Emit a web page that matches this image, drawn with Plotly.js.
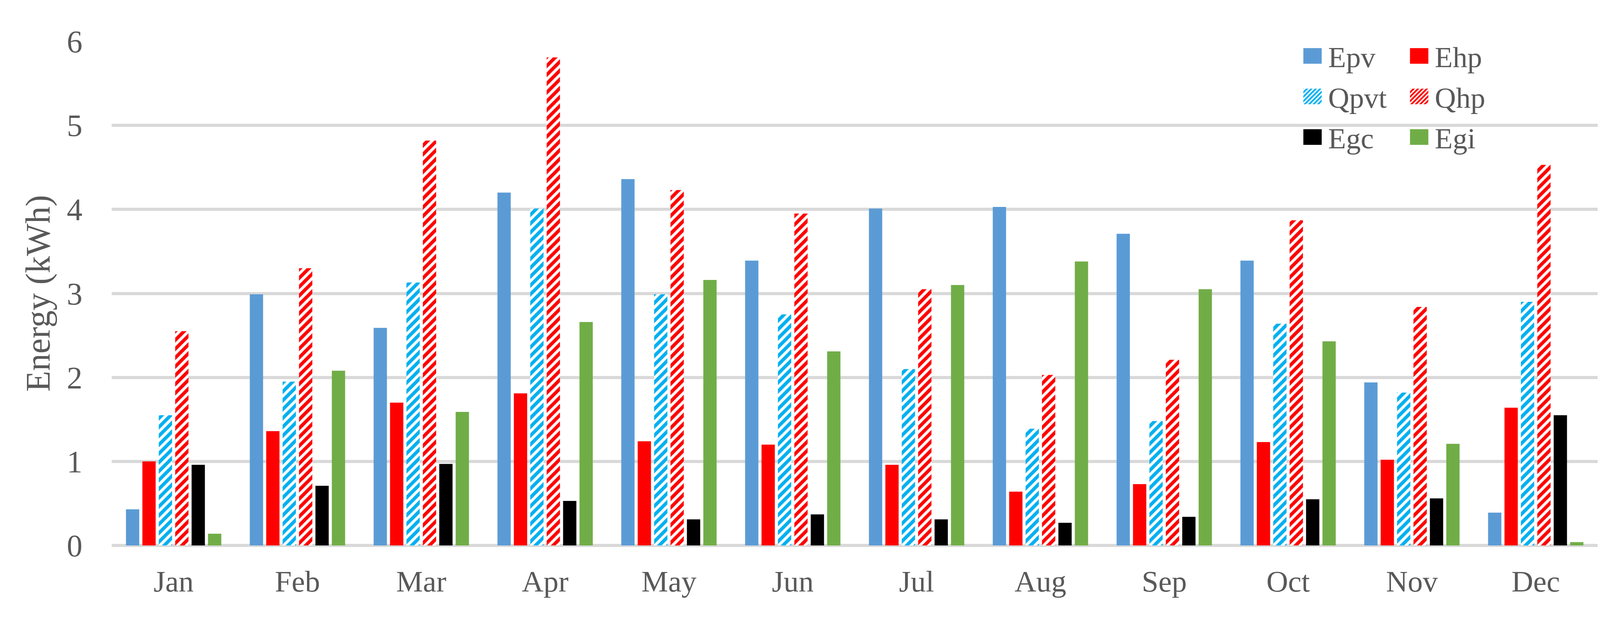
<!DOCTYPE html>
<html>
<head>
<meta charset="utf-8">
<script src="https://cdn.plot.ly/plotly-3.0.1.min.js"></script>
<style>html,body{margin:0;padding:0;background:#fff;}#chart{width:4151px;height:1588px;}</style>
</head>
<body>
<div id="chart"></div>
<script>
const months = ["Jan","Feb","Mar","Apr","May","Jun","Jul","Aug","Sep","Oct","Nov","Dec"];
const Epv  = [0.43, 2.99, 2.59, 4.20, 4.36, 3.39, 4.01, 4.03, 3.71, 3.39, 1.94, 0.39];
const Ehp  = [1.00, 1.36, 1.70, 1.81, 1.24, 1.20, 0.96, 0.64, 0.73, 1.23, 1.02, 1.64];
const Qpvt = [1.55, 1.95, 3.13, 4.01, 2.99, 2.75, 2.10, 1.39, 1.48, 2.64, 1.82, 2.90];
const Qhp  = [2.55, 3.30, 4.82, 5.81, 4.23, 3.95, 3.05, 2.03, 2.21, 3.87, 2.84, 4.53];
const Egc  = [0.96, 0.71, 0.97, 0.53, 0.31, 0.37, 0.31, 0.27, 0.34, 0.55, 0.56, 1.55];
const Egi  = [0.14, 2.08, 1.59, 2.66, 3.16, 2.31, 3.10, 3.38, 3.05, 2.43, 1.21, 0.04];
const yTicks = [0, 1, 2, 3, 4, 5, 6];

const FONT = '"Palatino Linotype", "Book Antiqua", Palatino, "Liberation Serif", serif';
const GREY = '#595959';

function solid(name, y, color, legend) {
  return {type:'bar', name:name, x:months, y:y, legend:legend,
          marker:{color:color, line:{width:0}}, hoverinfo:'skip'};
}
function patterned(name, y, color, legend, sol) {
  return {type:'bar', name:name, x:months, y:y, legend:legend,
          marker:{color:color, line:{width:0},
                  pattern:{shape:'/', fgcolor:color, bgcolor:'#ffffff', size:16, solidity:sol, fgopacity:1, fillmode:'replace'}},
          hoverinfo:'skip'};
}

const traces = [
  solid('Epv', Epv, '#5b9bd5', 'legend'),
  solid('Ehp', Ehp, '#ff0000', 'legend'),
  patterned('Qpvt', Qpvt, '#00b0f0', 'legend2', 0.55),
  patterned('Qhp', Qhp, '#ff0000', 'legend2', 0.55),
  solid('Egc', Egc, '#000000', 'legend3'),
  solid('Egi', Egi, '#70ad47', 'legend3')
];

const plotTop = 105.6, plotBottom = 1397, H = 1588;
function legendCfg(yc) {
  return {orientation:'h', x:0.7976, xanchor:'left', y:yc, yanchor:'middle',
          font:{family:FONT, size:75, color:GREY}, itemwidth:70,
          entrywidth:188, entrywidthmode:'pixels', bgcolor:'rgba(0,0,0,0)',
          borderwidth:0, traceorder:'normal', itemclick:false};
}
const ph = plotBottom - plotTop;
const layout = {
  width:4151, height:1588,
  margin:{l:286, r:61, t:plotTop, b:H - plotBottom, pad:0},
  paper_bgcolor:'#ffffff', plot_bgcolor:'#ffffff',
  barmode:'group', bargap:0.205, bargroupgap:0.19,
  font:{family:FONT, color:GREY},
  showlegend:true,
  legend: legendCfg((plotBottom - 143)/ph),
  legend2: legendCfg((plotBottom - 247)/ph),
  legend3: legendCfg((plotBottom - 351)/ph),
  xaxis:{type:'category', showgrid:false, zeroline:false, showline:false, ticks:'',
         tickfont:{family:FONT, size:77, color:GREY}, ticklabelstandoff:40, automargin:false},
  yaxis:{range:[0,6], tickvals:yTicks, ticktext:yTicks.map(String), showgrid:true,
         gridcolor:'#d9d9d9', gridwidth:8, zeroline:true, zerolinecolor:'#d9d9d9', zerolinewidth:8,
         showline:false, ticks:'', ticklabelstandoff:74,
         tickfont:{family:FONT, size:80, color:GREY}, automargin:false,
         title:{text:'Energy (kWh)', font:{family:FONT, size:88, color:GREY}, standoff:14}}
};

function bigSwatches() {
  document.querySelectorAll('.infolayer g.legendpoints path').forEach(function(p){
    p.setAttribute('d','M23.5,20H-23.5V-20H23.5Z');
  });
}
const gd = document.getElementById('chart');
Plotly.newPlot(gd, traces, layout, {staticPlot:true, displayModeBar:false}).then(function(){
  bigSwatches();
  gd.on && gd.on('plotly_afterplot', bigSwatches);
  setTimeout(bigSwatches, 50);
  setTimeout(bigSwatches, 300);
});
</script>
</body>
</html>
